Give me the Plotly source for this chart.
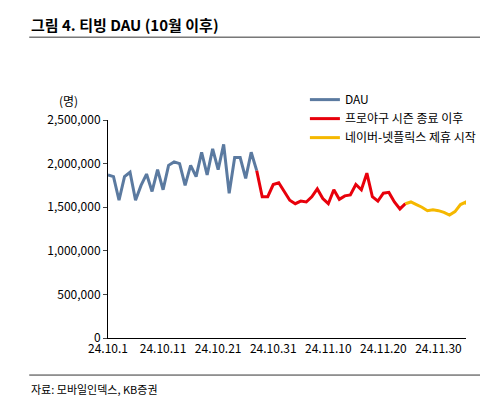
import plotly.graph_objects as go

# DAU values in millions
dau_blue = [1.87, 1.85, 1.58, 1.85, 1.90, 1.58, 1.75, 1.88, 1.68, 1.93, 1.70, 1.98, 2.02, 2.00,
            1.75, 1.98, 1.85, 2.13, 1.87, 2.17, 1.93, 2.22, 1.66, 2.07, 2.07, 1.83, 2.13, 1.92]
dau_red = [1.92, 1.62, 1.62, 1.76, 1.78, 1.68, 1.58, 1.54, 1.57, 1.56, 1.62, 1.71, 1.60, 1.54,
           1.70, 1.59, 1.63, 1.64, 1.76, 1.70, 1.89, 1.62, 1.57, 1.66, 1.67, 1.56, 1.48, 1.54]
dau_yellow = [1.54, 1.56, 1.53, 1.50, 1.46, 1.47, 1.46, 1.44, 1.41, 1.45, 1.53, 1.56, 1.44]
tick_labels = ["24.10.1", "24.10.11", "24.10.21", "24.10.31", "24.11.10", "24.11.20", "24.11.30"]
series_names = ["DAU", "프로야구 시즌 종료 이후", "네이버-넷플릭스 제휴 시작"]
colours = ["#5b7aa0", "#e8000b", "#f5b800"]

n_b = len(dau_blue)
n_r = len(dau_red)
x_blue = list(range(n_b))
x_red = list(range(n_b - 1, n_b - 1 + n_r))
x_yellow = list(range(x_red[-1], x_red[-1] + len(dau_yellow)))

fig = go.Figure()
for xs, ys, name, c in zip([x_blue, x_red, x_yellow], [dau_blue, dau_red, dau_yellow],
                           series_names, colours):
    fig.add_trace(go.Scatter(x=xs, y=[v * 1e6 for v in ys], mode="lines", name=name,
                             line=dict(color=c, width=3)))

fig.update_xaxes(range=[0, 65], tickvals=[0, 10, 20, 30, 40, 50, 60], ticktext=tick_labels,
                 showline=True, linecolor="black", ticks="", showgrid=False,
                 tickfont=dict(size=12, color="black"))
fig.update_yaxes(range=[0, 2500000], dtick=500000, tickformat=",", showline=True,
                 linecolor="black", ticks="outside", ticklen=4, showgrid=False,
                 tickfont=dict(size=12, color="black"))
fig.update_layout(
    width=488, height=402, plot_bgcolor="white", paper_bgcolor="white",
    font=dict(family="Noto Sans CJK KR", color="black"),
    margin=dict(l=100, r=30, t=112, b=72),
    legend=dict(x=0.55, y=1.16, xanchor="left", yanchor="top", bgcolor="rgba(0,0,0,0)",
                font=dict(size=12), tracegroupgap=0),
    shapes=[
        dict(type="line", xref="paper", yref="paper", x0=-0.22, x1=1.06, y0=1.38, y1=1.38,
             line=dict(color="#333", width=1)),
        dict(type="line", xref="paper", yref="paper", x0=-0.22, x1=1.06, y0=-0.17, y1=-0.17,
             line=dict(color="#333", width=1)),
    ],
    annotations=[
        dict(text="<b>그림 4. 티빙 DAU (10월 이후)</b>", xref="paper", yref="paper", x=-0.22,
             y=1.44, xanchor="left", yanchor="middle", showarrow=False, font=dict(size=15)),
        dict(text="(명)", xref="paper", yref="paper", x=-0.11, y=1.04, xanchor="center",
             yanchor="bottom", showarrow=False, font=dict(size=12)),
        dict(text="자료: 모바일인덱스, KB증권", xref="paper", yref="paper", x=-0.22, y=-0.19,
             xanchor="left", yanchor="top", showarrow=False, font=dict(size=11)),
    ],
)
fig.write_html("out.html")
